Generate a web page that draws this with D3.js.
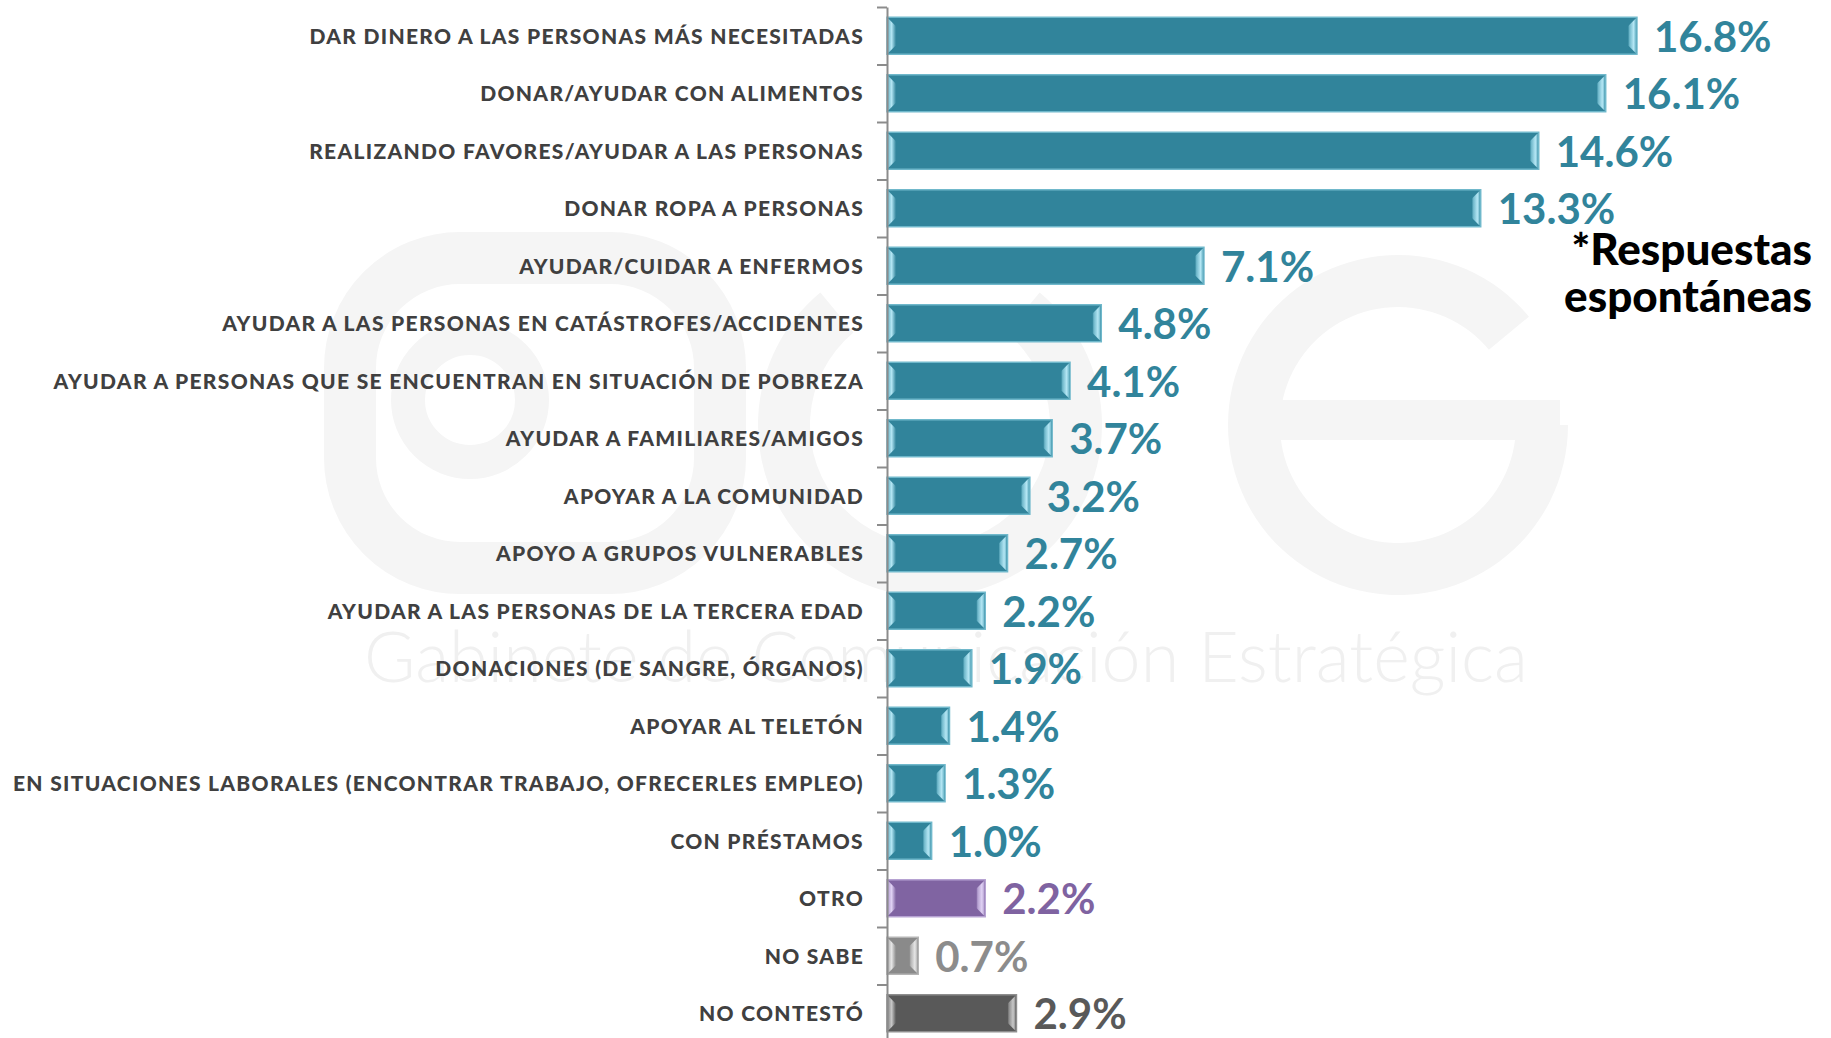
<!DOCTYPE html>
<html>
<head>
<meta charset="utf-8">
<script src="https://cdn.jsdelivr.net/npm/d3@7"></script>
<style>
  html, body { margin: 0; padding: 0; background: #ffffff; }
  svg { display: block; }
  .cat-label { font-family: Lato, "Open Sans", sans-serif; font-weight: 900; font-size: 21px; fill: #404040; letter-spacing: 1.3px; }
  .value-label { font-family: Lato, "Open Sans", sans-serif; font-weight: 700; font-size: 42px; }
  .note { font-family: Lato, "Open Sans", sans-serif; font-weight: 900; font-size: 44px; fill: #000000; }
  .axis path, .axis line { stroke: #8c8c8c; stroke-width: 2px; }
</style>
</head>
<body>
<svg id="chart"></svg>
<script>
const categories = [
  "DAR DINERO A LAS PERSONAS MÁS NECESITADAS",
  "DONAR/AYUDAR CON ALIMENTOS",
  "REALIZANDO FAVORES/AYUDAR A LAS PERSONAS",
  "DONAR ROPA A PERSONAS",
  "AYUDAR/CUIDAR A ENFERMOS",
  "AYUDAR A LAS PERSONAS EN CATÁSTROFES/ACCIDENTES",
  "AYUDAR A PERSONAS QUE SE ENCUENTRAN EN SITUACIÓN DE POBREZA",
  "AYUDAR A FAMILIARES/AMIGOS",
  "APOYAR A LA COMUNIDAD",
  "APOYO A GRUPOS VULNERABLES",
  "AYUDAR A LAS PERSONAS DE LA TERCERA EDAD",
  "DONACIONES (DE SANGRE, ÓRGANOS)",
  "APOYAR AL TELETÓN",
  "EN SITUACIONES LABORALES (ENCONTRAR TRABAJO, OFRECERLES EMPLEO)",
  "CON PRÉSTAMOS",
  "OTRO",
  "NO SABE",
  "NO CONTESTÓ"
];

const values = [16.8, 16.1, 14.6, 13.3, 7.1, 4.8, 4.1, 3.7, 3.2, 2.7, 2.2, 1.9, 1.4, 1.3, 1.0, 2.2, 0.7, 2.9];

// which colour group each bar belongs to
const groups = [
  "main", "main", "main", "main", "main", "main", "main", "main", "main",
  "main", "main", "main", "main", "main", "main", "otro", "nosabe", "nocontesto"
];

const groupStyles = {
  main: { fill: "#31849b", edge: "#6fb8cb", light: "#b4e6f4", text: "#31849b" },
  otro: { fill: "#8064a2", edge: "#b6a2d2", light: "#e0d2f4", text: "#7f63a1" },
  nosabe: { fill: "#8a8a8a", edge: "#b4b4b4", light: "#e6e6e6", text: "#8c8c8c" },
  nocontesto: { fill: "#595959", edge: "#8e8e8e", light: "#c8c8c8", text: "#595959" }
};

const noteLines = ["*Respuestas", "espontáneas"];
const watermarkText = "Gabinete de Comunicación Estratégica";

const width = 1831;
const height = 1038;
const axisX = 887;
const plotTop = 7;
const step = 57.5;
const bevel = 8;

const svg = d3.select("#chart").attr("width", width).attr("height", height);

// faint watermark logo behind the chart
const wm = svg.append("g").attr("class", "watermark").attr("fill", "none").attr("stroke", "#f5f5f5").attr("stroke-width", 52);
wm.append("rect").attr("x", 350).attr("y", 258).attr("width", 370).attr("height", 310).attr("rx", 110);
wm.append("circle").attr("cx", 470).attr("cy", 400).attr("r", 62).attr("stroke-width", 34);
const arc = d3.arc();
wm.append("path")
  .attr("transform", "translate(930, 425)")
  .attr("d", arc({ innerRadius: 120, outerRadius: 172, startAngle: Math.PI * 0.22, endAngle: Math.PI * 1.78 }))
  .attr("fill", "#f5f5f5")
  .attr("stroke", "none");
wm.append("path")
  .attr("transform", "translate(1398, 425)")
  .attr("d", arc({ innerRadius: 118, outerRadius: 170, startAngle: Math.PI * 0.5, endAngle: Math.PI * 2.28 }))
  .attr("fill", "#f5f5f5")
  .attr("stroke", "none");
wm.append("line").attr("x1", 1240).attr("x2", 1560).attr("y1", 420).attr("y2", 420).attr("stroke-width", 40);
svg.append("text")
  .attr("x", 946)
  .attr("y", 682)
  .attr("text-anchor", "middle")
  .attr("font-family", "Lato, sans-serif")
  .attr("font-weight", 300)
  .attr("font-size", 70)
  .attr("fill", "#f0f0f0")
  .text(watermarkText);

const x = d3.scaleLinear().domain([0, 20]).range([axisX, axisX + 20 * 44.64]);
const y = d3
  .scaleBand()
  .domain(categories)
  .range([plotTop, plotTop + categories.length * step])
  .paddingInner(0.357)
  .paddingOuter(0.1785);
const yEdges = d3.scaleLinear().domain([0, categories.length]).range([plotTop, plotTop + categories.length * step]);

// gradients for bevels
const defs = svg.append("defs");
Object.entries(groupStyles).forEach(([key, style]) => {
  const left = defs.append("linearGradient").attr("id", `bevel-left-${key}`).attr("x1", "0").attr("x2", "1").attr("y1", "0").attr("y2", "0");
  left.append("stop").attr("offset", "0%").attr("stop-color", style.edge);
  left.append("stop").attr("offset", "45%").attr("stop-color", style.light);
  left.append("stop").attr("offset", "100%").attr("stop-color", style.fill);
  const right = defs.append("linearGradient").attr("id", `bevel-right-${key}`).attr("x1", "0").attr("x2", "1").attr("y1", "0").attr("y2", "0");
  right.append("stop").attr("offset", "0%").attr("stop-color", style.fill);
  right.append("stop").attr("offset", "20%").attr("stop-color", style.edge);
  right.append("stop").attr("offset", "70%").attr("stop-color", style.light);
  right.append("stop").attr("offset", "100%").attr("stop-color", style.edge);
});

const rows = categories.map((name, i) => ({ name, value: values[i], group: groups[i] }));

const bars = svg
  .append("g")
  .selectAll("g")
  .data(rows)
  .join("g");

bars
  .append("rect")
  .attr("x", x(0))
  .attr("y", (d) => y(d.name))
  .attr("width", (d) => x(d.value) - x(0))
  .attr("height", y.bandwidth())
  .attr("fill", (d) => groupStyles[d.group].fill)
  .attr("stroke", (d) => groupStyles[d.group].edge)
  .attr("stroke-width", 1.5);

bars
  .append("polygon")
  .attr("points", (d) => {
    const x0 = x(0) + 1;
    const y0 = y(d.name) + 1;
    const y1 = y(d.name) + y.bandwidth() - 1;
    return [[x0, y0], [x0 + bevel, y0 + bevel], [x0 + bevel, y1 - bevel], [x0, y1]].join(" ");
  })
  .attr("fill", (d) => `url(#bevel-left-${d.group})`);

bars
  .append("polygon")
  .attr("points", (d) => {
    const x1 = x(d.value) - 1;
    const y0 = y(d.name) + 1;
    const y1 = y(d.name) + y.bandwidth() - 1;
    return [[x1 - bevel, y0 + bevel], [x1, y0], [x1, y1], [x1 - bevel, y1 - bevel]].join(" ");
  })
  .attr("fill", (d) => `url(#bevel-right-${d.group})`);

bars
  .append("text")
  .attr("class", "value-label")
  .attr("x", (d) => x(d.value) + 17)
  .attr("y", (d) => y(d.name) + y.bandwidth() / 2 + 16)
  .attr("fill", (d) => groupStyles[d.group].text)
  .text((d) => `${d.value.toFixed(1)}%`);

bars
  .append("text")
  .attr("class", "cat-label")
  .attr("x", 864)
  .attr("y", (d) => y(d.name) + y.bandwidth() / 2 + 8)
  .attr("text-anchor", "end")
  .text((d) => d.name);

// vertical axis with ticks at category boundaries
svg
  .append("g")
  .attr("class", "axis")
  .attr("transform", `translate(${axisX}, 0)`)
  .call(d3.axisLeft(yEdges).ticks(categories.length).tickSizeInner(10).tickSizeOuter(0).tickFormat(""));

svg
  .append("text")
  .attr("class", "note")
  .attr("text-anchor", "end")
  .selectAll("tspan")
  .data(noteLines)
  .join("tspan")
  .attr("x", 1812)
  .attr("y", (d, i) => 265 + i * 47)
  .text((d) => d);
</script>
</body>
</html>
